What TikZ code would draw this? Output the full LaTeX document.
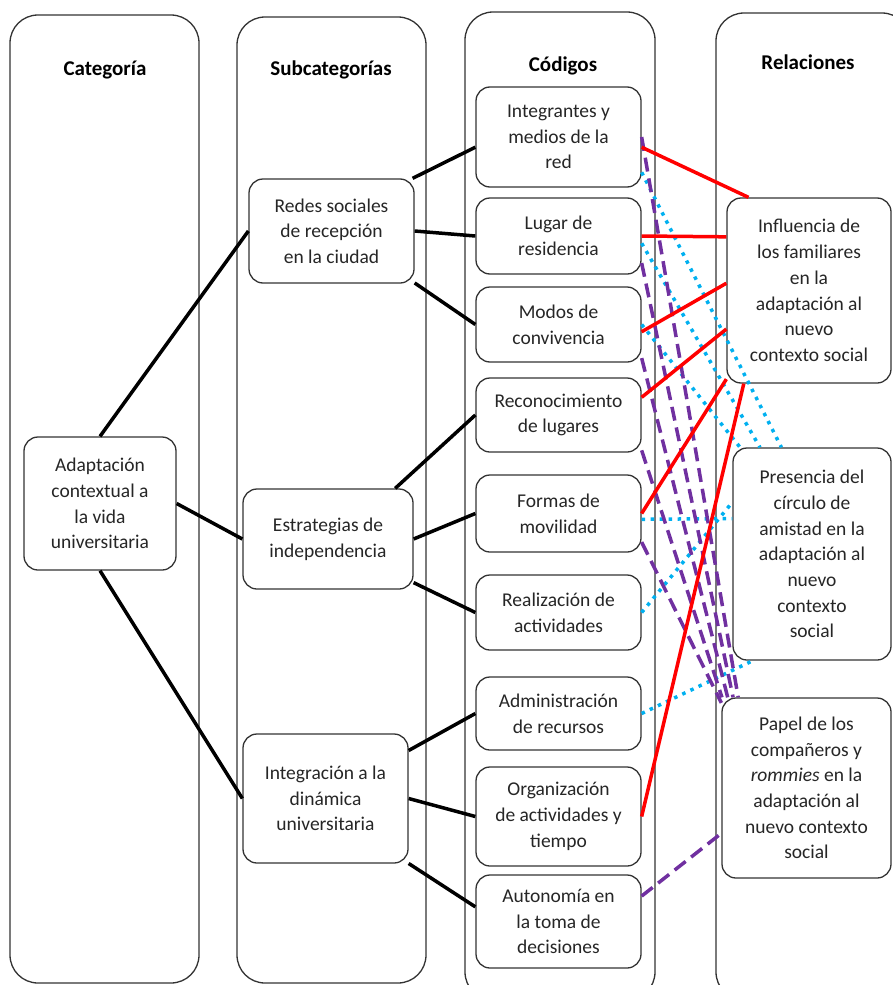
\documentclass[tikz,border=0pt]{standalone}
\usepackage{fontspec}
\setmainfont{Carlito}
\definecolor{relred}{RGB}{255,0,0}
\definecolor{relpurple}{RGB}{112,48,160}
\definecolor{relblue}{RGB}{0,176,240}
\begin{document}
\begin{tikzpicture}
    [
    x=1pt, y=-1pt,
    every node/.style={font=\fontsize{19.5}{25.7}\selectfont,text=black!85},
    column/.style={draw=black!80,line width=1.3pt,rounded corners=28pt},
    heading/.style={font=\fontsize{21}{24}\selectfont\bfseries,text=black},
    box/.style={draw=black!80,line width=1.3pt,rounded corners=14pt,fill=white,align=center,inner sep=0pt},
    code/.style={box,minimum width=165},
    tie/.style={line width=3.5pt,black},
    family/.style={line width=3.5pt,relred},
    mates/.style={line width=3.5pt,relpurple,dash pattern=on 14pt off 7pt},
    friends/.style={line width=3.5pt,relblue,dash pattern=on 3.5pt off 5.5pt}
    ]
    \useasboundingbox (0,0) rectangle (893,985);

    \draw [column] (10,15) rectangle (199,983);
    \draw [column] (237,17) rectangle (426,983);
    \draw [column] (465,12) rectangle (655,1000);
    \draw [column] (716,13) rectangle (910,1000);

    \node (hcat) at (105,70) [heading] {Categoría};
    \node (hsub) at (331,70) [heading] {Subcategorías};
    \node (hcod) at (563,66) [heading] {Códigos};
    \node (hrel) at (808,62) [heading] {Relaciones};

    \node (adapt) at (100,503.5) [box,minimum width=152,minimum height=133] {Adaptación\\contextual a\\la vida\\universitaria};

    \node (redes) at (331.5,231) [box,minimum width=165,minimum height=104] {Redes sociales\\de recepción\\en la ciudad};
    \node (estrat) at (328,539) [box,minimum width=170,minimum height=100] {Estrategias de\\independencia};
    \node (integ) at (325.5,798.5) [box,minimum width=165,minimum height=129] {Integración a la\\dinámica\\universitaria};

    \node (integr) at (558.5,137) [code,minimum height=100] {Integrantes y\\medios de la\\red};
    \node (lugar) at (558.5,236) [code,minimum height=76] {Lugar de\\residencia};
    \node (modos) at (558.5,324.5) [code,minimum height=75] {Modos de\\convivencia};
    \node (recon) at (558.5,415) [code,minimum height=74] {Reconocimiento\\de lugares};
    \node (formas) at (558.5,513.5) [code,minimum height=77] {Formas de\\movilidad};
    \node (realiz) at (558.5,612.5) [code,minimum height=75] {Realización de\\actividades};
    \node (admin) at (558.5,713.5) [code,minimum height=73] {Administración\\de recursos};
    \node (organiz) at (558.5,816.5) [code,minimum height=99] {Organización\\de actividades y\\tiempo};
    \node (auton) at (558.5,921.5) [code,minimum height=93] {Autonomía en\\la toma de\\decisiones};

    \node (influ) at (809,290.5) [box,minimum width=164,minimum height=185] {Influencia de\\los familiares\\en la\\adaptación al\\nuevo\\contexto social};
    \node (presen) at (812,554) [box,minimum width=158,minimum height=212] {Presencia del\\círculo de\\amistad en la\\adaptación al\\nuevo\\contexto\\social};
    \node (papel) at (806.5,788) [box,minimum width=169,minimum height=180] {Papel de los\\compañeros y\\\textit{rommies} en la\\adaptación al\\nuevo contexto\\social};

    \draw [tie] (adapt.north) to (redes.west);
    \draw [tie] (adapt.east) to (estrat.west);
    \draw [tie] (adapt.south) to (integ.west);

    \draw [tie] (redes.33) to (integr.187);
    \draw [tie] (redes.east) to (lugar.west);
    \draw [tie] (redes.-32) to (modos.west);
    \draw [tie] (estrat.37) to (recon.west);
    \draw [tie] (estrat.east) to (formas.west);
    \draw [tie] (estrat.-27) to (realiz.west);
    \draw [tie] (integ.30) to (admin.west);
    \draw [tie] (integ.east) to (organiz.west);
    \draw [tie] (integ.-38) to (auton.170);

    \draw [friends] (integr.-23) to (presen.106);
    \draw [friends] (lugar.-5) to (presen.116);
    \draw [friends] (modos.east) to (presen.124.7);
    \draw [friends] (formas.-4.5) to (presen.156.7);
    \draw [friends] (realiz.east) to (presen.147.2);
    \draw [friends] (admin.east) to (presen.241.7);

    \draw [mates] (integr.0) to (papel.127.3);
    \draw [mates] (lugar.-18) to (papel.129.6);
    \draw [mates] (modos.-22) to (papel.131.4);
    \draw [mates] (recon.-23.8) to (papel.133.5);
    \draw [mates] (formas.-19) to (papel.135.9);
    \draw [mates] (auton.17.5) to (papel.208);

    \draw [family] (integr.-7) to (influ.123.4);
    \draw [family] (lugar.east) to (influ.147.4);
    \draw [family] (modos.-5) to (influ.175);
    \draw [family] (recon.12.3) to (influ.205.7);
    \draw [family] (formas.east) to (influ.227.6);
    \draw [family] (organiz.east) to (influ.235.3);
  \end{tikzpicture}
\end{document}
